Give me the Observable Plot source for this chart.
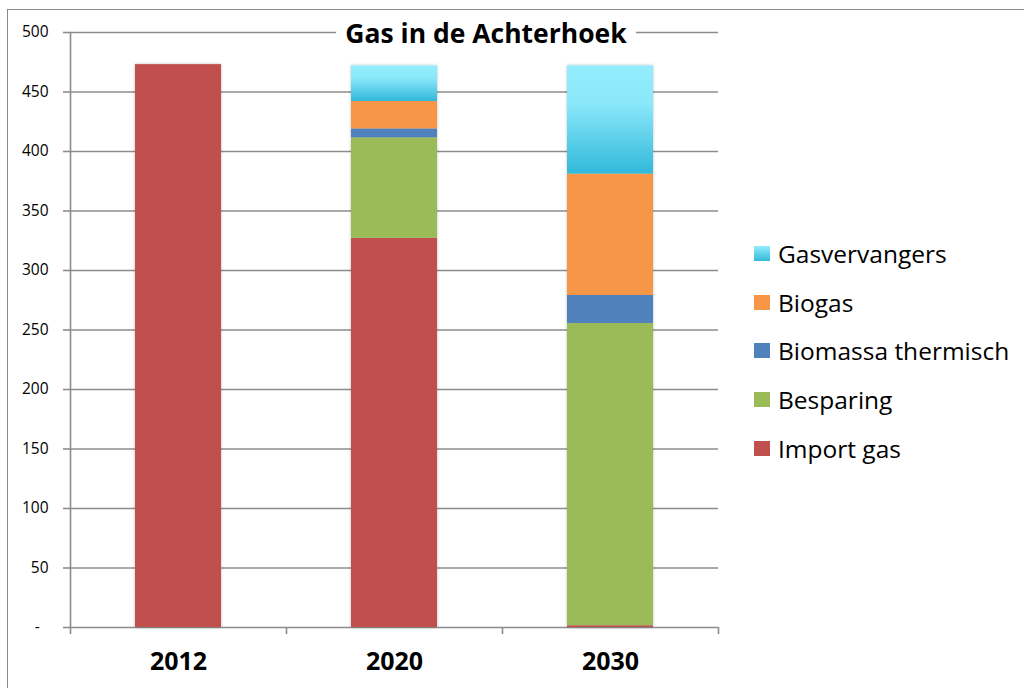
<!DOCTYPE html>
<html>
<head>
<meta charset="utf-8">
<script src="https://cdn.jsdelivr.net/npm/d3@7"></script>
<script src="https://cdn.jsdelivr.net/npm/@observablehq/plot@0.6"></script>
<style>
  html, body { margin: 0; padding: 0; background: #fff; }
  #wrap { position: relative; width: 1024px; height: 688px; overflow: hidden; font-family: "Open Sans", Lato, sans-serif; }
  #border { position: absolute; left: 7px; top: 9px; width: 1040px; height: 700px; border: 1.5px solid #8a8a8a; box-sizing: border-box; }
  #chart { position: absolute; left: 0; top: 0; }
  #title { position: absolute; left: 336px; width: 300px; top: 13px; height: 40px; line-height: 40px; text-align: center; background: #fff; font-weight: bold; font-size: 26.5px; color: #000; white-space: nowrap; }
  #legend { position: absolute; left: 754px; top: 229px; }
  .row { height: 48.7px; display: flex; align-items: center; font-size: 24.5px; color: #000; }
  .sw { width: 16px; height: 15px; margin-right: 8px; flex: none; }
</style>
</head>
<body>
<div id="wrap">
  <div id="border"></div>
  <div id="chart"></div>
  <div id="title">Gas in de Achterhoek</div>
  <div id="legend"></div>
</div>
<script>
const years = ["2012", "2020", "2030"];
const series = ["Import gas", "Besparing", "Biomassa thermisch", "Biogas", "Gasvervangers"];
const importGas = [473, 327, 1.5];
const besparing = [0, 84.5, 254];
const biomassa = [0, 7.5, 23.5];
const biogas = [0, 23, 102];
const gasvervangers = [0, 30, 91];
const yTicks = [0, 50, 100, 150, 200, 250, 300, 350, 400, 450, 500];
const legendOrder = ["Gasvervangers", "Biogas", "Biomassa thermisch", "Besparing", "Import gas"];

const colors = ["#c0504d", "#9bbb59", "#4f81bd", "#f79646", "url(#gvGrad)"];
const legendCss = {
  "Import gas": "#c0504d",
  "Besparing": "#9bbb59",
  "Biomassa thermisch": "#4f81bd",
  "Biogas": "#f79646",
  "Gasvervangers": "linear-gradient(to bottom, #93edfd, #31b9da)"
};

const valuesBySeries = [importGas, besparing, biomassa, biogas, gasvervangers];
const data = [];
series.forEach((s, si) => {
  years.forEach((y, yi) => {
    data.push({year: y, series: s, value: valuesBySeries[si][yi]});
  });
});

const W = 1024, H = 688;
const mL = 70, mR = 306, mT = 32, mB = 61;
const step = (W - mL - mR) / years.length;

const svg = Plot.plot({
  width: W,
  height: H,
  marginLeft: mL,
  marginRight: mR,
  marginTop: mT,
  marginBottom: mB,
  style: {fontFamily: "'Open Sans', Lato, sans-serif", background: "transparent", color: "#000"},
  x: {domain: years, paddingInner: 0.6, paddingOuter: 0.3, axis: null, label: null},
  y: {domain: [0, 500], axis: null, label: null},
  color: {domain: series, range: colors},
  marks: [
    Plot.ruleY(yTicks, {stroke: "#8c8c8c", strokeWidth: 1.6}),
    Plot.barY(data, {x: "year", y: "value", fill: "series", order: series}),
    Plot.ruleX([years[0]], {dx: -step / 2, y1: 0, y2: 500, stroke: "#8c8c8c", strokeWidth: 1.6}),
    Plot.ruleX(years, {dx: -step / 2, y1: 0, y2: 0, insetBottom: -7, stroke: "#8c8c8c", strokeWidth: 1.6}),
    Plot.ruleX([years[years.length - 1]], {dx: step / 2, y1: 0, y2: 0, insetBottom: -7, stroke: "#8c8c8c", strokeWidth: 1.6}),
    Plot.axisY({ticks: yTicks, tickSize: 7, tickPadding: 15, fontSize: 15.5, stroke: "#8c8c8c", strokeWidth: 1.6, label: null,
      tickFormat: d => d === 0 ? "-\u2007" : String(d)}),
    Plot.axisX({tickSize: 0, tickPadding: 25, fontSize: 25, fontWeight: "bold", label: null})
  ]
});

// gradient definition for Gasvervangers
const sel = d3.select(svg);
const defs = sel.insert("defs", ":first-child");
const grad = defs.append("linearGradient").attr("id", "gvGrad").attr("x1", 0).attr("y1", 0).attr("x2", 0).attr("y2", 1);
grad.append("stop").attr("offset", "0%").attr("stop-color", "#93edfd");
grad.append("stop").attr("offset", "35%").attr("stop-color", "#8be8fa");
grad.append("stop").attr("offset", "100%").attr("stop-color", "#31b9da");
const shadow = defs.append("filter").attr("id", "barShadow").attr("x", "-10%").attr("y", "-10%").attr("width", "120%").attr("height", "120%");
shadow.append("feDropShadow").attr("dx", 0).attr("dy", 0).attr("stdDeviation", 1.5).attr("flood-color", "#000").attr("flood-opacity", 0.25);
sel.selectAll("g[aria-label='bar']").attr("filter", "url(#barShadow)");

document.getElementById("chart").appendChild(svg);

const legend = document.getElementById("legend");
legendOrder.forEach(name => {
  const row = document.createElement("div");
  row.className = "row";
  const sw = document.createElement("div");
  sw.className = "sw";
  sw.style.background = legendCss[name];
  const label = document.createElement("span");
  label.textContent = name;
  row.appendChild(sw);
  row.appendChild(label);
  legend.appendChild(row);
});
</script>
</body>
</html>
